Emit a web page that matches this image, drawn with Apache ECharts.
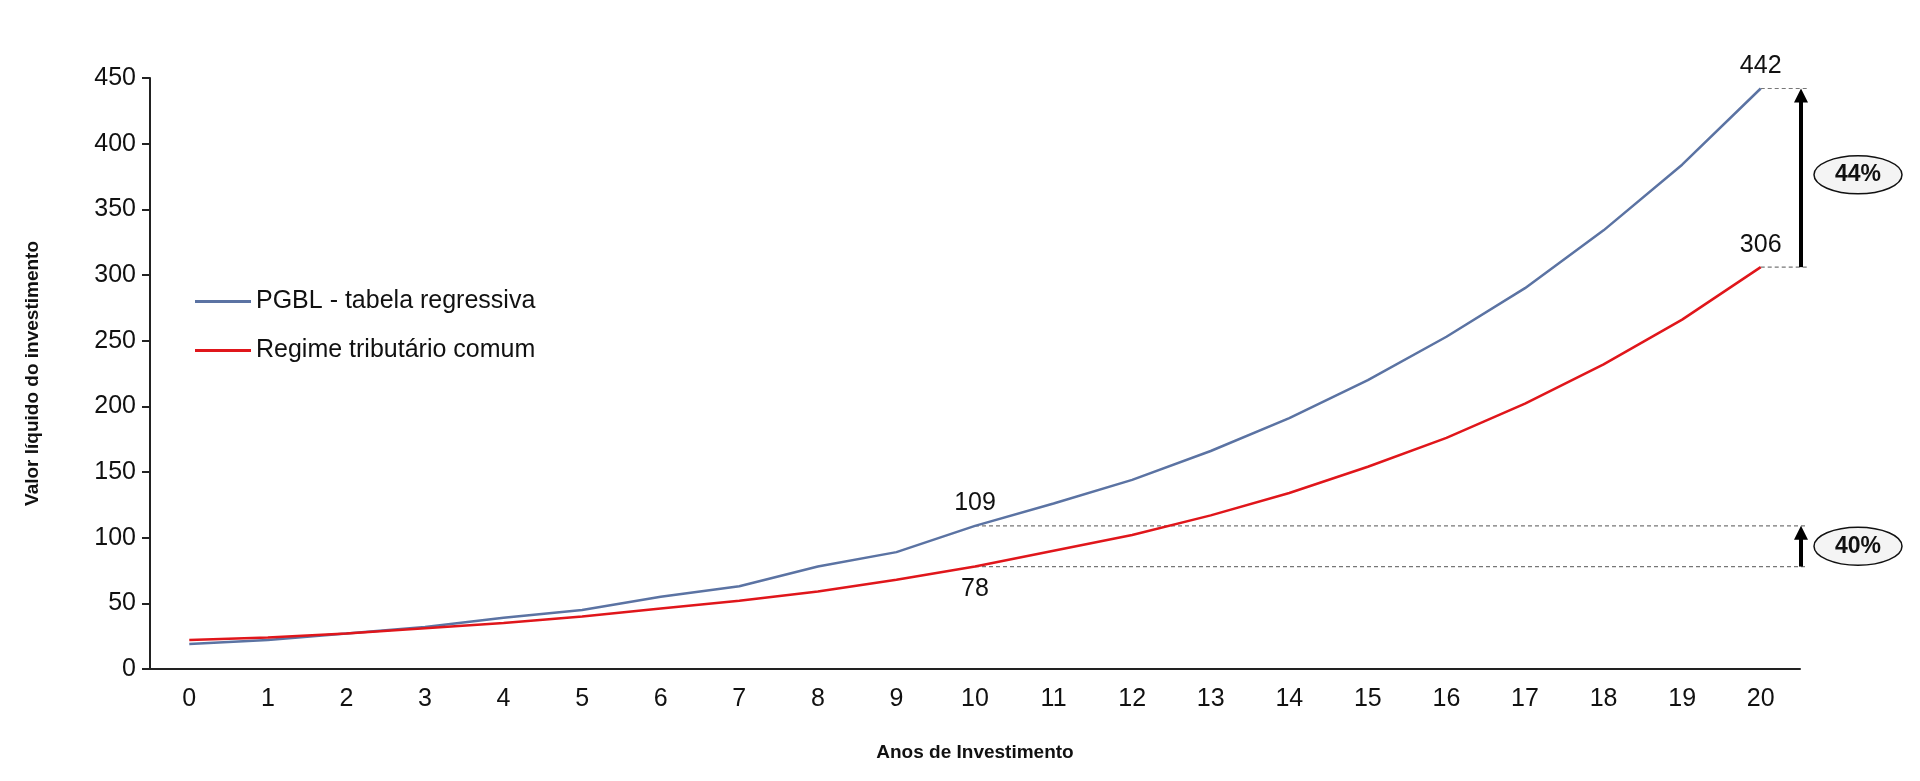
<!DOCTYPE html>
<html><head><meta charset="utf-8">
<script src="https://cdn.jsdelivr.net/npm/echarts@6/dist/echarts.min.js"></script>
<style>html,body{margin:0;padding:0;background:#fff}#c{width:1920px;height:781px}</style>
</head><body><div id="c"></div>
<script>
const years = ['0','1','2','3','4','5','6','7','8','9','10','11','12','13','14','15','16','17','18','19','20'];
const pgbl = [19,22,27,32,39,45,55,63,78,89,109,126,144,166,191,220,253,290,334,384,442];
const comum = [22,24,27,31,35,40,46,52,59,68,78,90,102,117,134,154,176,202,232,266,306];
const yTicks = [0,50,100,150,200,250,300,350,400,450];
const seriesNames = ['PGBL - tabela regressiva','Regime tributário comum'];
const pctLabels = ['44%','40%'];

const F = 'Liberation Sans, Arial, sans-serif';
const chart = echarts.init(document.getElementById('c'));
function lbl(arr, idxs){
  return arr.map((v,i)=> idxs[i] ? {value:v,label:{show:true,position:idxs[i],formatter:String(v),fontSize:25,color:'#111',fontFamily:F,distance:10}} : v);
}
const pLab = {10:'top',20:'top'}, cLab = {10:'bottom',20:'top'};
chart.setOption({
  animation:false,
  grid:{left:150,right:120,top:78,bottom:112},
  legend:{left:190,top:284,orient:'vertical',itemWidth:56,itemHeight:3,itemGap:24,icon:'rect',
    textStyle:{fontSize:25,color:'#111',fontFamily:F},data:seriesNames},
  xAxis:{type:'category',data:years,boundaryGap:true,
    name:'Anos de Investimento',nameLocation:'middle',nameGap:74,
    nameTextStyle:{fontSize:19,fontWeight:'bold',color:'#111',fontFamily:F},
    axisLine:{lineStyle:{color:'#222',width:2}},axisTick:{show:false},
    axisLabel:{fontSize:25,color:'#111',fontFamily:F,margin:18}},
  yAxis:{type:'value',min:0,max:450,interval:50,
    name:'Valor líquido do investimento',nameLocation:'middle',nameGap:108,
    nameTextStyle:{fontSize:19,fontWeight:'bold',color:'#111',fontFamily:F},
    axisLine:{show:true,lineStyle:{color:'#222',width:2}},axisTick:{show:true,length:8,lineStyle:{color:'#222',width:2}},
    splitLine:{show:false},
    axisLabel:{fontSize:25,color:'#111',fontFamily:F,margin:14,formatter:v=>yTicks.includes(v)?String(v):''}},
  series:[
    {name:seriesNames[0],type:'line',data:lbl(pgbl,pLab),symbol:'circle',symbolSize:0.01,showSymbol:true,lineStyle:{color:'#5b73a3',width:2.5},itemStyle:{color:'#5b73a3'}},
    {name:seriesNames[1],type:'line',data:lbl(comum,cLab),symbol:'circle',symbolSize:0.01,showSymbol:true,lineStyle:{color:'#e0161b',width:2.5},itemStyle:{color:'#e0161b'}}
  ]
});
function px(c,v){return chart.convertToPixel({gridIndex:0},[c,v]);}
const ax = 1801, endX = 1808;
const g = [];
function dash(x1,y1){g.push({type:'line',shape:{x1:x1,y1:y1,x2:endX,y2:y1},style:{stroke:'#777',lineWidth:1.2,lineDash:[4,3]}});}
const p20=px(20,pgbl[20]), c20=px(20,comum[20]), p10=px(10,pgbl[10]), c10=px(10,comum[10]);
dash(p20[0],p20[1]); dash(c20[0],c20[1]); dash(p10[0],p10[1]); dash(c10[0],c10[1]);
function arrow(yTop,yBot){
  g.push({type:'line',shape:{x1:ax,y1:yBot,x2:ax,y2:yTop+12},style:{stroke:'#000',lineWidth:4}});
  g.push({type:'polygon',shape:{points:[[ax,yTop],[ax-7,yTop+14],[ax+7,yTop+14]]},style:{fill:'#000'}});
}
arrow(p20[1],c20[1]); arrow(p10[1],c10[1]);
function pill(cy,t){
  g.push({type:'ellipse',shape:{cx:1858,cy:cy,rx:44,ry:19},style:{fill:'#f4f4f4',stroke:'#111',lineWidth:1.5}});
  g.push({type:'text',x:1858,y:cy,style:{text:t,fontSize:23,fontWeight:'bold',fontFamily:F,fill:'#111',align:'center',verticalAlign:'middle'}});
}
pill((p20[1]+c20[1])/2 - 3, pctLabels[0]);
pill((p10[1]+c10[1])/2, pctLabels[1]);
chart.setOption({graphic:g});
</script></body></html>
